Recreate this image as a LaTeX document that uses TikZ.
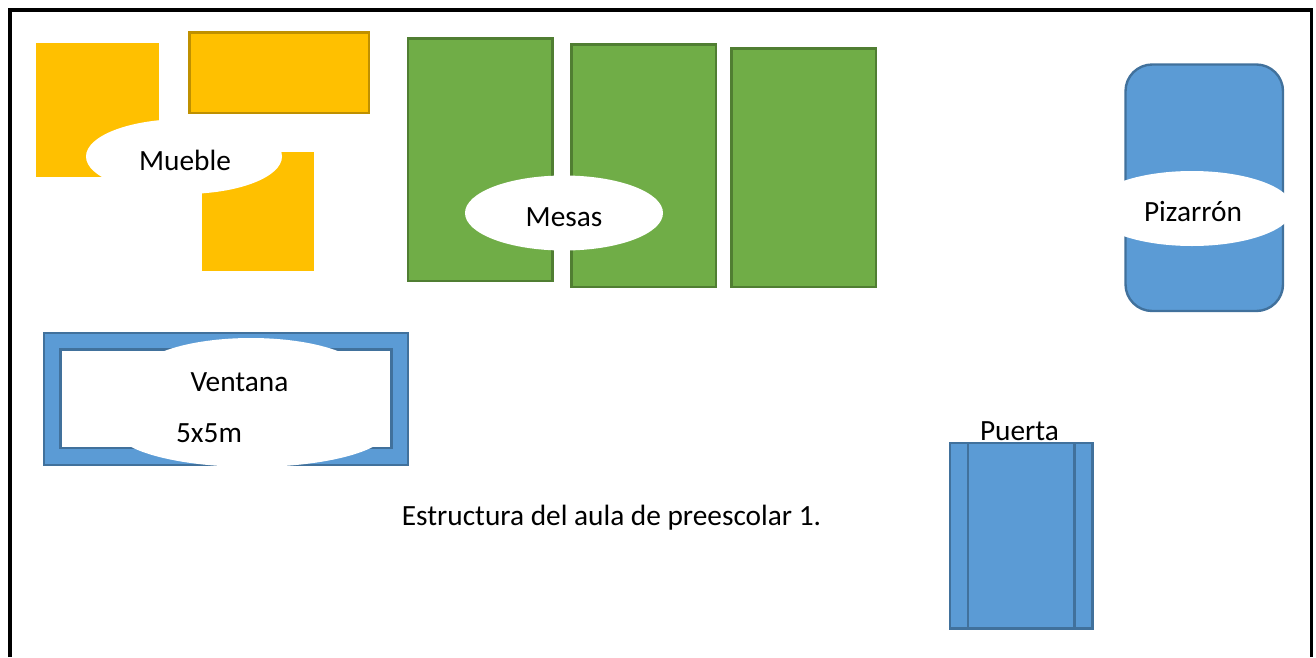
\documentclass[tikz,border=0pt]{standalone}
\usepackage{fontspec}
\setmainfont{Carlito}
\definecolor{orangefill}{HTML}{FFC000}
\definecolor{orangeline}{HTML}{BF9000}
\definecolor{greenfill}{HTML}{70AD47}
\definecolor{greenline}{HTML}{507E32}
\definecolor{bluefill}{HTML}{5B9BD5}
\definecolor{blueline}{HTML}{41719C}
\tikzset{
  orangeplain/.style={fill=orangefill},
  orangebox/.style={fill=orangefill,draw=orangeline,line width=1.8pt},
  greenbox/.style={fill=greenfill,draw=greenline,line width=1.8pt},
  bluebox/.style={fill=bluefill,draw=blueline,line width=1.8pt},
  blank/.style={fill=white,draw=none},
  label/.style={inner sep=0pt,font=\fontsize{22pt}{26pt}\selectfont,text=black,anchor=center}
}
\begin{document}
\begin{tikzpicture}[x=0.75pt,y=-0.75pt]
\useasboundingbox (0,0) rectangle (1316,657);
\fill[white] (0,0) rectangle (1316,657);
% outer frame, open at the bottom
\draw[black,line width=2.6pt] (10,657) -- (10,10) -- (1311.5,10) -- (1311.5,657);
% furniture
\fill[orangeplain] (36,43) rectangle (158.5,177);
\draw[orangebox] (189.5,32.5) rectangle (369,113);
\fill[orangeplain] (202,152) rectangle (314,271);
\fill[blank] (184,156.5) ellipse [x radius=98,y radius=37.5];
% tables
\draw[greenbox] (408,38.5) rectangle (552.5,281);
\draw[greenbox] (571.5,44.5) rectangle (716,287);
\draw[greenbox] (731.5,48.5) rectangle (876,287);
\fill[blank] (564,213) ellipse [x radius=99,y radius=37.5];
% blackboard
\draw[bluebox,rounded corners=20pt] (1125.5,64.5) rectangle (1283,311);
\fill[blank] (1192,208.5) ellipse [x radius=101,y radius=37.5];
% window
\fill[bluefill,even odd rule] (43.7,333) rectangle (408,465) (60.5,350) rectangle (391.5,448);
\draw[blueline,line width=1.8pt] (43.7,333) rectangle (408,465);
\draw[blueline,line width=1.8pt,fill=white] (60.5,349.5) rectangle (391.5,448);
\fill[blank] (251,376) ellipse [x radius=115,y radius=38];
\fill[blank] (252,429) ellipse [x radius=137,y radius=38];
% door
\node[label] (puerta) at (1019.5,431) {Puerta};
\draw[bluebox] (950,443) rectangle (1092.5,628.5);
\draw[blueline,line width=1.8pt] (968,443) -- (968,628.5);
\draw[blueline,line width=1.8pt] (1074.5,443) -- (1074.5,628.5);
% labels
\node[label] (mueble) at (185,160) {Mueble};
\node[label] (mesas) at (564,217.5) {Mesas};
\node[label] (pizarron) at (1193,212) {Pizarrón};
\node[label] (ventana) at (239.5,382) {Ventana};
\node[label] (medida) at (209,433.5) {5x5m};
\node[label] (titulo) at (611.5,517.5) {Estructura del aula de preescolar 1.};
\end{tikzpicture}
\end{document}
